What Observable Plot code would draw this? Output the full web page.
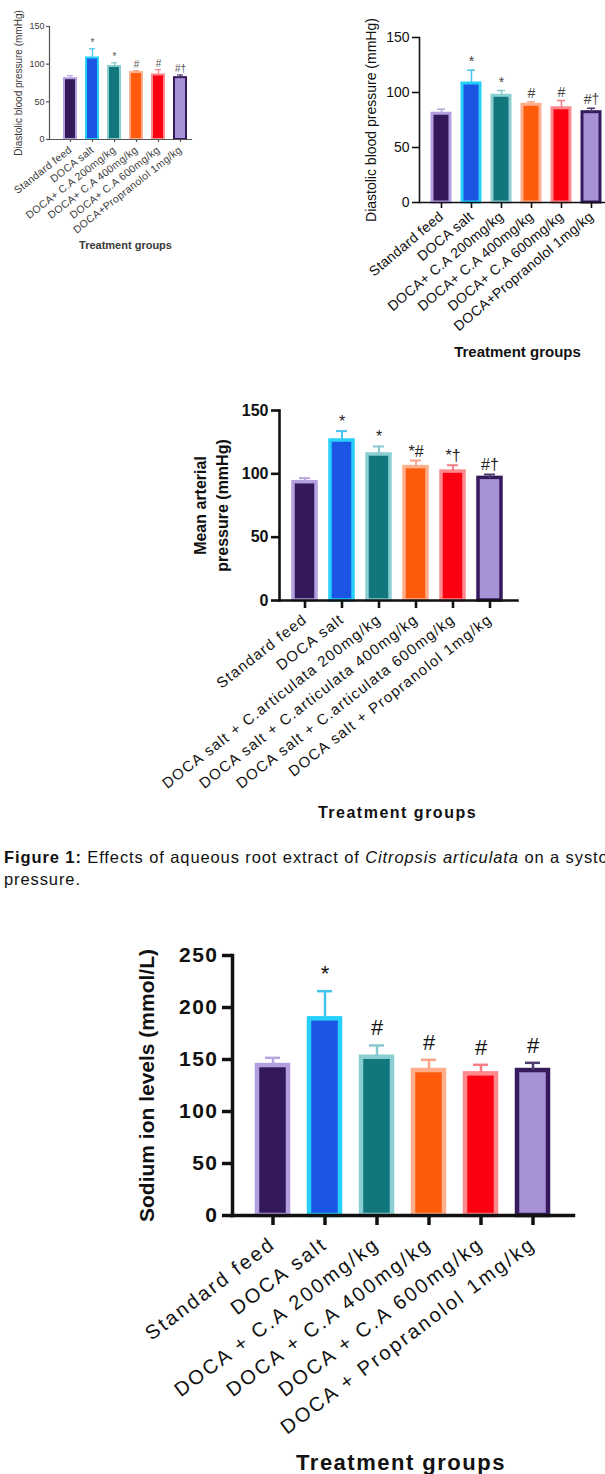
<!DOCTYPE html>
<html>
<head>
<meta charset="utf-8">
<script src="https://cdn.jsdelivr.net/npm/d3@7"></script>
<script src="https://cdn.jsdelivr.net/npm/@observablehq/plot@0.6"></script>
<style>
  html, body { margin: 0; padding: 0; background: #fff; }
  #wrap { position: relative; width: 605px; height: 1474px; overflow: hidden; background: #fff; }
  .panel { position: absolute; }
  .c1 g[aria-label="x-axis tick label"] { letter-spacing: 0.3px; }
  .c2 g[aria-label="x-axis tick label"] { letter-spacing: 0.3px; }
  .c3 g[aria-label="x-axis tick label"] { letter-spacing: 1.2px; }
  .c3 .xtitle { letter-spacing: 1.5px; }
  .c4 g[aria-label="x-axis tick label"] { letter-spacing: 2.4px; }
  .c4 g[aria-label="y-axis tick label"] { letter-spacing: 1.5px; }
  .c4 .xtitle { letter-spacing: 1.5px; }
  #caption { position: absolute; left: 4px; top: 846px; font-family: "Liberation Sans", Arial, sans-serif;
             font-size: 16.5px; line-height: 22px; white-space: nowrap; color: #111; letter-spacing: 0.9px; }
</style>
</head>
<body>
<div id="wrap">
  <div id="p1" class="panel" style="left:0px;top:0px"></div>
  <div id="p2" class="panel" style="left:340px;top:0px"></div>
  <div id="p3" class="panel" style="left:170px;top:380px"></div>
  <div id="p4" class="panel" style="left:120px;top:930px"></div>
  <div id="caption"><b>Figure 1:</b> Effects of aqueous root extract of <i>Citropsis articulata</i> on a systolic blood<br>pressure.</div>
</div>
<script>
// ---------- data ----------
const diastolicGroups = ["Standard feed", "DOCA salt", "DOCA+ C.A 200mg/kg", "DOCA+ C.A 400mg/kg", "DOCA+ C.A 600mg/kg", "DOCA+Propranolol 1mg/kg"];
const diastolicMean = [80.7, 108.2, 97.0, 88.8, 85.7, 82.1];
const diastolicErr  = [84.8, 120.3, 101.8, 91.5, 92.7, 85.7];
const diastolicSig  = ["", "*", "*", "#", "#", "#†"];

const mapGroups = ["Standard feed", "DOCA salt", "DOCA salt + C.articulata 200mg/kg", "DOCA salt + C.articulata 400mg/kg", "DOCA salt + C.articulata 600mg/kg", "DOCA salt + Propranolol 1mg/kg"];
const mapMean = [93.4, 126.3, 115.3, 105.3, 101.8, 96.8];
const mapErr  = [96.6, 133.7, 121.6, 110.5, 106.8, 99.5];
const mapSig  = ["", "*", "*", "*#", "*†", "#†"];

const sodiumGroups = ["Standard feed", "DOCA salt", "DOCA + C.A 200mg/kg", "DOCA + C.A 400mg/kg", "DOCA + C.A 600mg/kg", "DOCA + Propranolol 1mg/kg"];
const sodiumMean = [144.2, 189.1, 152.2, 139.4, 136.2, 139.4];
const sodiumErr  = [151.6, 215.7, 163.5, 149.7, 144.9, 146.8];
const sodiumSig  = ["", "*", "#", "#", "#", "#"];

const pressureTicks = [0, 50, 100, 150];
const sodiumTicks = [0, 50, 100, 150, 200, 250];

const barFills    = ["#34195a", "#1a55e3", "#12767d", "#fd5a0b", "#fc0011", "#a892d6"];
const barOutlines = ["#b49fe0", "#26d0fb", "#8ccfd2", "#ffae8c", "#ff8a8e", "#361b5c"];
const errColors   = ["#b9a6e0", "#43c4ec", "#86c8cc", "#f7a488", "#f57f86", "#4e3d6e"];

// ---------- chart builder ----------
function barChart(o) {
  const data = o.groups.map((g, i) => ({
    group: g, mean: o.mean[i], err: o.err[i], sig: o.sig[i],
    fill: barFills[i], outline: barOutlines[i], ec: errColors[i]
  }));
  const pad = 1 - o.bw / o.step;
  return Plot.plot({
    className: o.cls,
    width: o.width, height: o.height,
    marginLeft: o.mL, marginTop: o.mT, marginBottom: o.mB, marginRight: o.mR,
    style: { fontFamily: "'Liberation Sans', Arial, sans-serif", color: o.textColor, background: "transparent", overflow: "visible" },
    x: { domain: o.groups, range: [o.c0 - o.step / 2, o.c0 + o.step * 5.5], paddingInner: pad, paddingOuter: pad / 2, axis: null },
    y: { domain: [0, o.yMax], axis: null },
    color: { type: "identity" },
    marks: [
      Plot.barY(data, { x: "group", y: "mean", fill: "fill", stroke: "outline", strokeWidth: o.sw }),
      Plot.ruleX(data, { x: "group", y1: "mean", y2: "err", stroke: "ec", strokeWidth: o.ew }),
      Plot.tickY(data, { x: "group", y: "err", stroke: "ec", strokeWidth: o.ew, insetLeft: o.capInset, insetRight: o.capInset }),
      Plot.text(data, { x: "group", y: "err", text: "sig", lineAnchor: "bottom", dy: o.sigDy, fontSize: o.sigSize, fill: o.sigColor }),
      Plot.axisY({ ticks: o.yTicks, tickFormat: d => String(d), tickSize: o.yTickSize, tickPadding: o.yTickPad,
                   fontSize: o.yFont, fontWeight: o.yWeight, stroke: o.axisColor, strokeWidth: o.axisW, fill: o.textColor, label: null }),
      Plot.axisX({ tickSize: o.xTickSize, tickPadding: o.xTickPad, tickRotate: o.rot, fontSize: o.xFont,
                   stroke: o.axisColor, strokeWidth: o.axisW, fill: o.textColor, label: null }),
      Plot.frame({ anchor: "left", stroke: o.axisColor, strokeWidth: o.axisW }),
      Plot.frame({ anchor: "bottom", stroke: o.axisColor, strokeWidth: o.axisW }),
      Plot.text([o.yLabel], { text: d => d, frameAnchor: "left", textAnchor: "middle", lineAnchor: "middle", rotate: -90,
                              dx: o.yLabelDx, fontSize: o.yLabelFont, fontWeight: o.yLabelWeight,
                              lineHeight: o.yLabelLH || 1, fill: o.textColor }),
      Plot.text([o.xTitle], { text: d => d, frameAnchor: "bottom", textAnchor: "middle", dx: o.xTitleDx, dy: o.xTitleDy,
                              fontSize: o.xTitleFont, fontWeight: "bold", fill: o.textColor, className: "xtitle" })
    ]
  });
}

// Panel 1: small diastolic chart
document.getElementById("p1").append(barChart({
  cls: "c1", groups: diastolicGroups, mean: diastolicMean, err: diastolicErr, sig: diastolicSig,
  width: 200, height: 260, mL: 49, mT: 26, mB: 121, mR: 9,
  c0: 70, step: 22, bw: 12, sw: 2, ew: 1.2, capInset: 3,
  yMax: 150, yTicks: pressureTicks, yTickSize: 3, yTickPad: 2, yFont: 9, yWeight: "normal",
  xTickSize: 3, xTickPad: 6, rot: -38, xFont: 10.5,
  axisColor: "#555", axisW: 1.2, textColor: "#3a3a3a",
  sigDy: -3, sigSize: 10, sigColor: "#555",
  yLabel: "Diastolic blood pressure (mmHg)", yLabelDx: -31, yLabelFont: 10, yLabelWeight: "normal",
  xTitle: "Treatment groups", xTitleDx: 5, xTitleDy: 109, xTitleFont: 11
}));

// Panel 2: large diastolic chart
document.getElementById("p2").append(barChart({
  cls: "c2", groups: diastolicGroups, mean: diastolicMean, err: diastolicErr, sig: diastolicSig,
  width: 265, height: 370, mL: 79, mT: 37, mB: 168, mR: 0,
  c0: 99.5, step: 30.6, bw: 18, sw: 3, ew: 1.5, capInset: 5,
  yMax: 150, yTicks: pressureTicks, yTickSize: 7, yTickPad: 3, yFont: 14, yWeight: "normal",
  xTickSize: 6, xTickPad: 6, rot: -40, xFont: 14,
  axisColor: "#111", axisW: 1.6, textColor: "#111",
  sigDy: -4, sigSize: 14, sigColor: "#444",
  yLabel: "Diastolic blood pressure (mmHg)", yLabelDx: -48, yLabelFont: 14, yLabelWeight: "normal",
  xTitle: "Treatment groups", xTitleDx: 5, xTitleDy: 154, xTitleFont: 15
}));

// Panel 3: mean arterial pressure
document.getElementById("p3").append(barChart({
  cls: "c3", groups: mapGroups, mean: mapMean, err: mapErr, sig: mapSig,
  width: 380, height: 460, mL: 109, mT: 30, mB: 240, mR: 33,
  c0: 134, step: 37.2, bw: 23, sw: 3.5, ew: 2, capInset: 6,
  yMax: 150, yTicks: pressureTicks, yTickSize: 8, yTickPad: 3, yFont: 16, yWeight: "bold",
  xTickSize: 8, xTickPad: 9, rot: -38, xFont: 15,
  axisColor: "#111", axisW: 2.6, textColor: "#111",
  sigDy: -4, sigSize: 16, sigColor: "#222",
  yLabel: "Mean arterial\npressure (mmHg)", yLabelDx: -70, yLabelFont: 16, yLabelWeight: "bold", yLabelLH: 1.375,
  xTitle: "Treatment groups", xTitleDx: -1, xTitleDy: 217, xTitleFont: 16
}));

// Panel 4: sodium ion levels
document.getElementById("p4").append(barChart({
  cls: "c4", groups: sodiumGroups, mean: sodiumMean, err: sodiumErr, sig: sodiumSig,
  width: 485, height: 544, mL: 112, mT: 25, mB: 259, mR: 32,
  c0: 150, step: 52.8, bw: 31, sw: 4.5, ew: 2.5, capInset: 8,
  yMax: 250, yTicks: sodiumTicks, yTickSize: 10, yTickPad: 4, yFont: 21, yWeight: "bold",
  xTickSize: 10, xTickPad: 16, rot: -37, xFont: 20,
  axisColor: "#111", axisW: 3.5, textColor: "#111",
  sigDy: -10, sigSize: 22, sigColor: "#111",
  yLabel: "Sodium ion levels (mmol/L)", yLabelDx: -85, yLabelFont: 21, yLabelWeight: "bold",
  xTitle: "Treatment groups", xTitleDx: -2, xTitleDy: 254, xTitleFont: 22
}));
</script>
</body>
</html>
